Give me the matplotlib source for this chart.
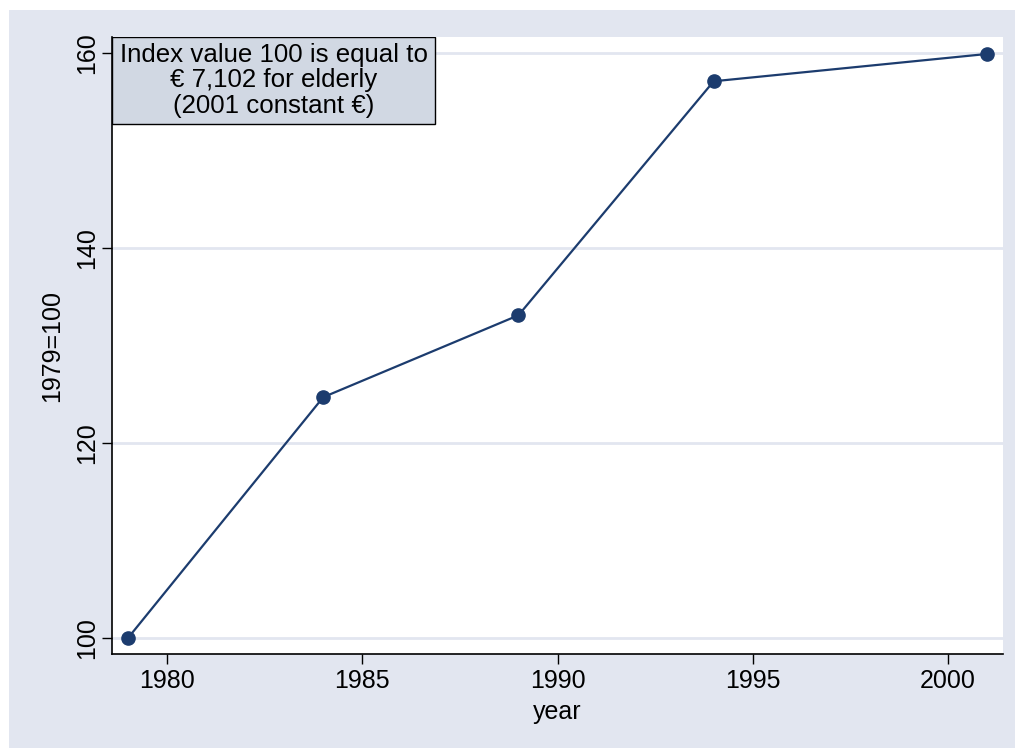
import matplotlib
matplotlib.use("Agg")
import matplotlib.pyplot as plt
from matplotlib.patches import Rectangle

years = [1979, 1984, 1989, 1994, 2001]
index_values = [100, 124.7, 133.1, 157.1, 159.9]
x_ticks = [1980, 1985, 1990, 1995, 2000]
y_ticks = [100, 120, 140, 160]
note = "Index value 100 is equal to\n€ 7,102 for elderly\n(2001 constant €)"

plt.rcParams["font.family"] = ["Liberation Sans", "DejaVu Sans"]

W, H = 1015, 749
fig = plt.figure(figsize=(W / 100, H / 100), dpi=100)
fig.patch.set_facecolor("white")
fig.patches.append(Rectangle((9 / W, 1 / H), 1 - 9 / W, 1 - 11 / H, transform=fig.transFigure,
                             facecolor="#e2e6f0", edgecolor="none", zorder=-10))

ax = fig.add_axes([112 / W, 95 / H, 891 / W, 617 / H])
ax.set_facecolor("white")

ax.plot(years, index_values, color="#1c3c6e", linewidth=1.6, marker="o",
        markersize=9.5, zorder=3, clip_on=False)

ax.set_xlim(1978.59, 2001.41)
ax.set_ylim(98.36, 161.64)
ax.set_xticks(x_ticks)
ax.set_yticks(y_ticks)
ax.tick_params(axis="both", direction="out", length=7, width=1, colors="black",
               labelsize=18, pad=4)
ax.tick_params(axis="y", labelrotation=90, pad=2)
for lbl in ax.get_yticklabels():
    lbl.set_va("center")

ax.grid(axis="y", color="#e2e6f0", linewidth=2)
ax.set_axisbelow(True)
for s in ["top", "right"]:
    ax.spines[s].set_visible(False)
for s in ["left", "bottom"]:
    ax.spines[s].set_linewidth(1.2)

ax.set_xlabel("year", fontsize=18, labelpad=5)
ax.set_ylabel("1979=100", fontsize=18, labelpad=8)

bw, bh = 323 / 891, 87 / 617
ax.add_patch(Rectangle((0, 1 - bh), bw, bh, transform=ax.transAxes,
                       facecolor="#d1d8e3", edgecolor="black", linewidth=1, zorder=4))
ax.text(bw / 2, 1 - bh / 2, note, transform=ax.transAxes, ha="center", va="center",
        fontsize=18.6, linespacing=1.07, zorder=5)

plt.savefig("out.png", dpi=100, facecolor=fig.get_facecolor())
